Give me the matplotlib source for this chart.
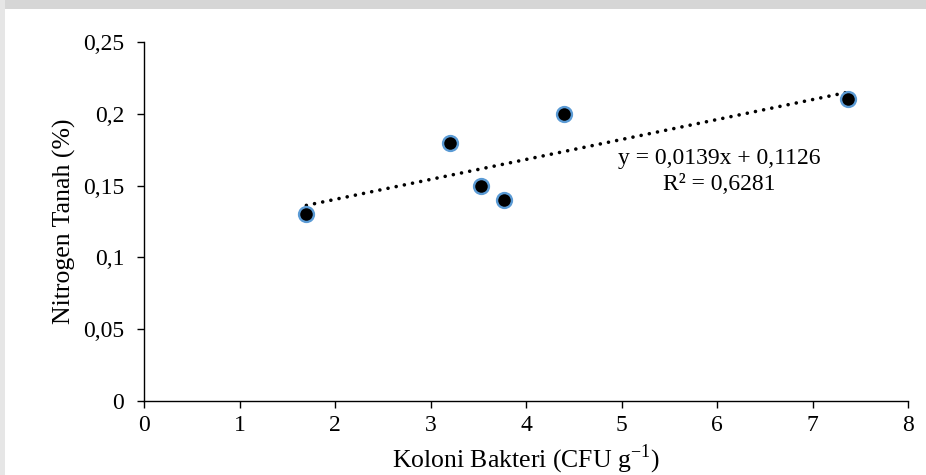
import numpy as np
import matplotlib
matplotlib.use("Agg")
import matplotlib.pyplot as plt
from matplotlib.patches import Rectangle
from matplotlib.ticker import FuncFormatter

plt.rcParams['font.family'] = ['Liberation Serif', 'DejaVu Serif']

# Bacterial colonies vs. soil nitrogen
koloni = [1.7, 3.2, 3.53, 3.77, 4.4, 7.37]
nitrogen = [0.13, 0.18, 0.15, 0.14, 0.20, 0.21]

# Linear trendline coefficients
slope = 0.0139
intercept = 0.1126
r_squared = 0.6281

x_ticks = [0, 1, 2, 3, 4, 5, 6, 7, 8]
y_ticks = [0, 0.05, 0.1, 0.15, 0.2, 0.25]

W, H = 926, 475
fig = plt.figure(figsize=(W / 100, H / 100), dpi=100)
ax = fig.add_axes([144 / W, 1 - 401 / H, (908 - 144) / W, (401 - 42) / H])

# trendline over the data range
xs = np.array([min(koloni), max(koloni)])
ax.plot(xs, slope * xs + intercept, color='black', linewidth=2.6,
        linestyle=(0, (0.01, 2.3)), dash_capstyle='round', zorder=2)

ax.scatter(koloni, nitrogen, s=115, color='black', edgecolors='#5B9BD5',
           linewidths=1.7, zorder=3)

ax.text(6.02, 0.169, f"y = {slope:.4f}x + {intercept:.4f}".replace('.', ','),
        ha='center', va='center', fontsize=17)
ax.text(6.02, 0.151, f"R² = {r_squared:.4f}".replace('.', ','),
        ha='center', va='center', fontsize=17)

ax.set_xlim(0, 8)
ax.set_ylim(0, 0.25)
ax.set_xticks(x_ticks)
ax.set_yticks(y_ticks)

def comma_fmt(v, pos):
    return f"{v:g}".replace('.', ',')

ax.yaxis.set_major_formatter(FuncFormatter(comma_fmt))
ax.xaxis.set_major_formatter(FuncFormatter(comma_fmt))

for side in ('top', 'right'):
    ax.spines[side].set_visible(False)
for side in ('left', 'bottom'):
    ax.spines[side].set_linewidth(1.0)
ax.tick_params(axis='both', direction='out', length=4.8, width=1.0, labelsize=17)
ax.tick_params(axis='y', pad=9.5)
ax.tick_params(axis='x', pad=5.5)

ax.set_xlabel("Koloni Bakteri (CFU g$^{\\mathregular{-1}}$)", fontsize=18.5, labelpad=4.5)
ax.set_ylabel("Nitrogen Tanah (%)", fontsize=18.5, labelpad=5)

# grey page border along the top and left edges
fig.patches.append(Rectangle((0, 1 - 9 / H), 1, 9 / H, transform=fig.transFigure,
                             facecolor='#d6d6d6', edgecolor='none', zorder=0))
fig.patches.append(Rectangle((0, 0), 5 / W, 1, transform=fig.transFigure,
                             facecolor='#e6e6e6', edgecolor='none', zorder=0))

fig.savefig("out.png", dpi=100)
